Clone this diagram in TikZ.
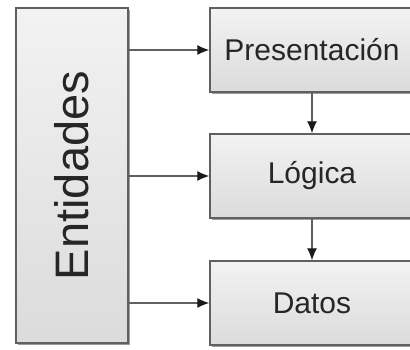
\documentclass[tikz,border=0pt]{standalone}
\usepackage{fontspec}
\setmainfont{Liberation Sans}
\usetikzlibrary{arrows.meta,shadows}
\definecolor{edge}{HTML}{606060}
\definecolor{txt}{HTML}{262626}
\definecolor{tip}{HTML}{1A1A1A}
\tikzset{
  box/.style={draw=edge, line width=1.4pt, top color=gray!10, bottom color=gray!28,
    shading angle=0, drop shadow={shadow xshift=1.6pt, shadow yshift=-1.8pt, opacity=0.55, fill=black!70},
    inner sep=0pt},
  lbl/.style={text=txt, font=\fontsize{30}{30}\selectfont},
  arr/.style={draw=edge, line width=1.3pt, -{Latex[length=12pt,width=10pt,fill=tip,color=tip]}}
}
\begin{document}
\begin{tikzpicture}[x=1pt,y=-1pt]
\useasboundingbox (0,0) rectangle (410,350);
\clip (0,0) rectangle (410,350);
\node[box, minimum width=112pt, minimum height=335pt] (ent) at (72,175.5) {};
\node[lbl, rotate=90, font=\fontsize{47}{47}\selectfont] (entl) at (72,175.5) {Entidades};
\node[box, minimum width=204pt, minimum height=84pt] (pres) at (312,50) {};
\node[lbl] (presl) at (pres) {Presentación};
\node[box, minimum width=204pt, minimum height=84pt] (log) at (312,176) {};
\node[lbl] (logl) at (log) {Lógica};
\node[box, minimum width=204pt, minimum height=84pt] (dat) at (312,303) {};
\node[lbl] (datl) at (dat) {Datos};
\draw[arr] (pres.west -| ent.east) -- (pres.west);
\draw[arr] (log.west -| ent.east) -- (log.west);
\draw[arr] (dat.west -| ent.east) -- (dat.west);
\draw[arr] (pres.south) -- (log.north);
\draw[arr] (log.south) -- (dat.north);
\end{tikzpicture}
\end{document}
